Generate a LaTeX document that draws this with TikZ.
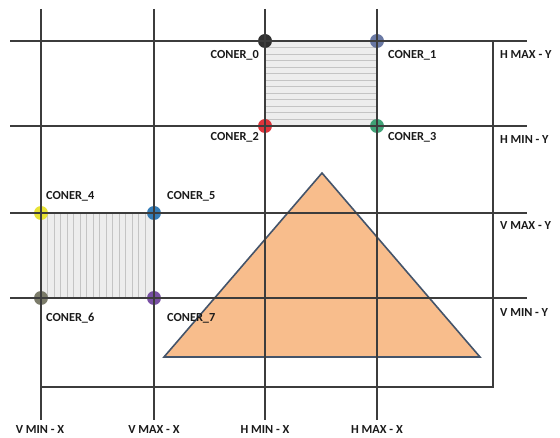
\documentclass[tikz,border=0pt]{standalone}
\usepackage{fontspec}
\setmainfont{Carlito}
\definecolor{gridc}{HTML}{3C3C3C}
\definecolor{txtc}{HTML}{1A1A1A}
\definecolor{tri}{HTML}{F8BD8C}
\definecolor{triedge}{HTML}{44546A}
\definecolor{boxfill}{HTML}{EDEDED}
\definecolor{stripe}{HTML}{C4C4C4}
\definecolor{c0}{HTML}{1A1A1A}
\definecolor{c1}{HTML}{5B6B9B}
\definecolor{c2}{HTML}{DD1F26}
\definecolor{c3}{HTML}{2E9A6A}
\definecolor{c4}{HTML}{E6E020}
\definecolor{c5}{HTML}{1F6FB0}
\definecolor{c6}{HTML}{6E6E5A}
\definecolor{c7}{HTML}{6A3D9A}
\tikzset{
  gridline/.style={draw=gridc,line width=2pt},
  lbl/.style={text=txtc,font=\fontsize{12.3}{14}\selectfont\bfseries,inner sep=0pt},
  dot/.style={circle,minimum size=14pt,inner sep=0pt,fill=#1,fill opacity=0.9},
  stripeline/.style={draw=stripe,line width=0.6pt}
}
\begin{document}
\begin{tikzpicture}[x=1pt,y=-1pt]
\useasboundingbox (0,0) rectangle (560,438);
% coordinates
\coordinate (vx1t) at (41,9);   \coordinate (vx1b) at (41,420);
\coordinate (vx2t) at (154,9);  \coordinate (vx2b) at (154,420);
\coordinate (hx1t) at (265,9);  \coordinate (hx1b) at (265,420);
\coordinate (hx2t) at (377,9);  \coordinate (hx2b) at (377,420);
\coordinate (hy1l) at (10,41);  \coordinate (hy1r) at (527,41);
\coordinate (hy2l) at (10,126); \coordinate (hy2r) at (527,126);
\coordinate (vy1l) at (10,213); \coordinate (vy1r) at (527,213);
\coordinate (vy2l) at (10,298); \coordinate (vy2r) at (527,298);
\coordinate (frTR) at (493,41); \coordinate (frBR) at (493,387); \coordinate (frBL) at (41,387);
% boxes
\fill[boxfill] (265,41) rectangle (377,126);
\foreach \y in {47.5,54,...,122} \draw[stripeline] (266,\y) -- (376,\y);
\fill[boxfill] (41,213) rectangle (154,298);
\foreach \x in {47.5,54,...,150} \draw[stripeline] (\x,214) -- (\x,297);
% triangle
\coordinate (tA) at (322,173); \coordinate (tB) at (164,357); \coordinate (tC) at (480,357);
\filldraw[fill=tri,draw=triedge,line width=1.6pt,line join=miter] (tA) -- (tB) -- (tC) -- cycle;
% corner dots
\node[dot=c0] (d0) at (265,41) {};
\node[dot=c1] (d1) at (377,41) {};
\node[dot=c2] (d2) at (265,126) {};
\node[dot=c3] (d3) at (377,126) {};
\node[dot=c4] (d4) at (41,213) {};
\node[dot=c5] (d5) at (154,213) {};
\node[dot=c6] (d6) at (41,298) {};
\node[dot=c7] (d7) at (154,298) {};
% grid lines
\draw[gridline] (vx1t) -- (vx1b);
\draw[gridline] (vx2t) -- (vx2b);
\draw[gridline] (hx1t) -- (hx1b);
\draw[gridline] (hx2t) -- (hx2b);
\draw[gridline] (hy1l) -- (hy1r);
\draw[gridline] (hy2l) -- (hy2r);
\draw[gridline] (vy1l) -- (vy1r);
\draw[gridline] (vy2l) -- (vy2r);
\draw[gridline] (frTR) -- (frBR) -- (frBL);
% corner labels
\node[lbl,anchor=east] (l0) at (259,55) {CONER\_0};
\node[lbl,anchor=west] (l1) at (388,55) {CONER\_1};
\node[lbl,anchor=east] (l2) at (259,137) {CONER\_2};
\node[lbl,anchor=west] (l3) at (388,137) {CONER\_3};
\node[lbl,anchor=west] (l4) at (46,196) {CONER\_4};
\node[lbl,anchor=west] (l5) at (167,196) {CONER\_5};
\node[lbl,anchor=west] (l6) at (46,318) {CONER\_6};
\node[lbl,anchor=west] (l7) at (167,318) {CONER\_7};
% right labels
\node[lbl,anchor=west] (r1) at (500,55) {H MAX - Y};
\node[lbl,anchor=west] (r2) at (500,140) {H MIN - Y};
\node[lbl,anchor=west] (r3) at (500,226) {V MAX - Y};
\node[lbl,anchor=west] (r4) at (500,313) {V MIN - Y};
% bottom labels
\node[lbl] (b1) at (40,430) {V MIN - X};
\node[lbl] (b2) at (154,430) {V MAX - X};
\node[lbl] (b3) at (265,430) {H MIN - X};
\node[lbl] (b4) at (377,430) {H MAX - X};
\end{tikzpicture}
\end{document}
